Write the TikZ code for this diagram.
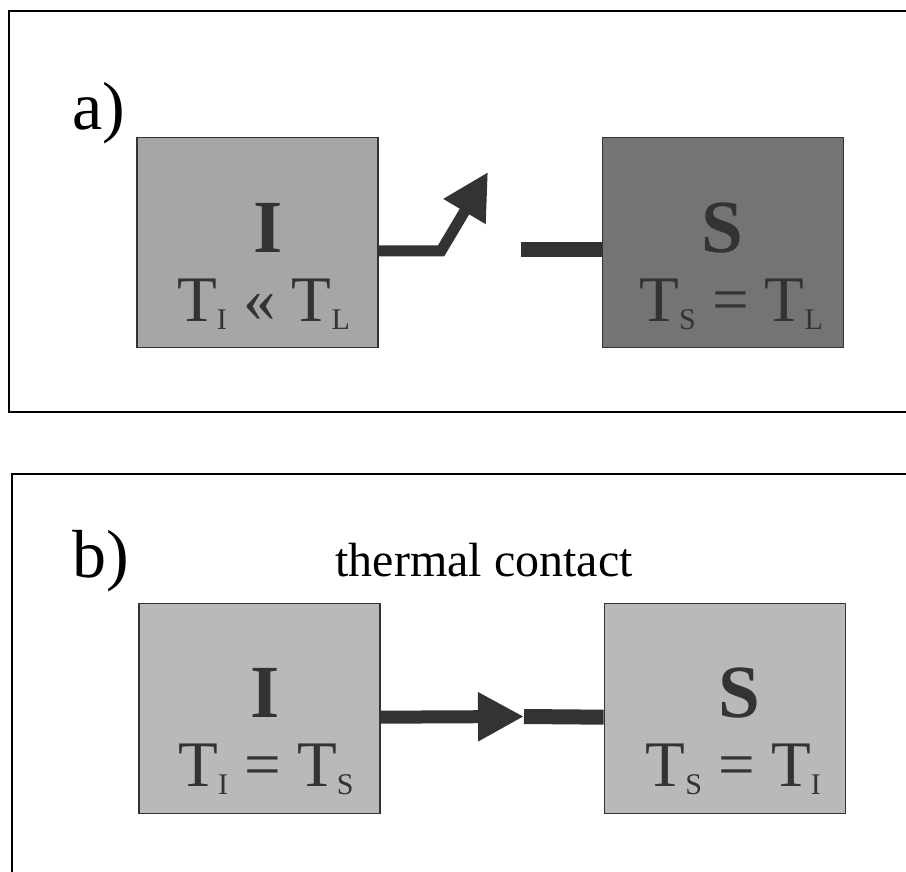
\documentclass[tikz,border=0pt]{standalone}
\usepackage{fontspec}
\setmainfont{Liberation Serif}
\usetikzlibrary{positioning,arrows.meta}
\definecolor{paneMid}{HTML}{A6A6A6}
\definecolor{paneDark}{HTML}{747474}
\definecolor{paneLight}{HTML}{B9B9B9}
\definecolor{inkGray}{HTML}{333333}
\newcommand{\lowsub}[1]{\raisebox{-8pt}{\fontsize{30}{32}\selectfont #1}}
\tikzset{
  box/.style={draw=inkGray, line width=1.2pt, minimum width=241pt, minimum height=210pt, inner sep=0pt},
  boxMid/.style={box, fill=paneMid},
  boxDark/.style={box, fill=paneDark},
  boxLight/.style={box, fill=paneLight},
  letter/.style={font=\fontsize{75}{80}\selectfont\bfseries, text=inkGray, anchor=base, inner sep=0pt},
  temp/.style={font=\fontsize{65}{70}\selectfont, text=inkGray, anchor=base, inner sep=0pt},
  tag/.style={font=\fontsize{68}{72}\selectfont, anchor=base west, inner sep=0pt},
  frame/.style={line width=1.5pt},
  link/.style={draw=inkGray, line width=13pt},
  linkArrow/.style={link, -{Triangle[length=46pt, width=46pt]}}
}
\begin{document}
\begin{tikzpicture}[x=1pt, y=-1pt]
  \useasboundingbox (0,0) rectangle (906,872);
  \draw[frame] (906,11) -- (9,11) -- (9,412) -- (906,412);
  \draw[frame] (906,474) -- (12,474) -- (12,872);

  \node[tag] (tagA) at (72,130) {a)};
  \node[boxMid] (ia) at (257.5,242.5) {};
  \node[boxDark, right=223pt of ia] (sa) {};
  \node[letter] (iaName) at ([xshift=11pt, yshift=-116pt]ia.north) {I};
  \node[temp] (iaTemp) at ([xshift=6pt, yshift=-185pt]ia.north) {T\lowsub{I} « T\lowsub{L}};
  \node[letter] (saName) at ([yshift=-116pt]sa.north) {S};
  \node[temp] (saTemp) at ([xshift=8.5pt, yshift=-185pt]sa.north) {T\lowsub{S} = T\lowsub{L}};

  \coordinate (bendA) at (441,251);
  \coordinate (tipA) at (488,172);
  \coordinate (stubA) at (521,250);
  \draw[linkArrow, line width=11pt] ([yshift=-8.5pt]ia.east) -- (bendA) -- (tipA);
  \draw[link, line width=15pt] (stubA) -- ([yshift=-7.5pt]sa.west);

  \node[tag] (tagB) at (72,577) {b)};
  \node[font=\fontsize{48}{52}\selectfont, anchor=base, inner sep=0pt] (contact) at (484,576) {thermal contact};
  \node[boxLight, below=255pt of ia, xshift=2pt] (ib) {};
  \node[boxLight, right=223pt of ib] (sb) {};
  \node[letter] (ibName) at ([xshift=6pt, yshift=-114pt]ib.north) {I};
  \node[temp] (ibTemp) at ([xshift=6.5pt, yshift=-183pt]ib.north) {T\lowsub{I} = T\lowsub{S}};
  \node[letter] (sbName) at ([xshift=15pt, yshift=-114pt]sb.north) {S};
  \node[temp] (sbTemp) at ([xshift=8.5pt, yshift=-183pt]sb.north) {T\lowsub{S} = T\lowsub{I}};

  \coordinate (meetB) at (524,716.5);
  \draw[linkArrow] ([yshift=-8.5pt]ib.east) -- (meetB);
  \draw[link, line width=15pt] (meetB) -- ([yshift=-8.5pt]sb.west);
\end{tikzpicture}
\end{document}
